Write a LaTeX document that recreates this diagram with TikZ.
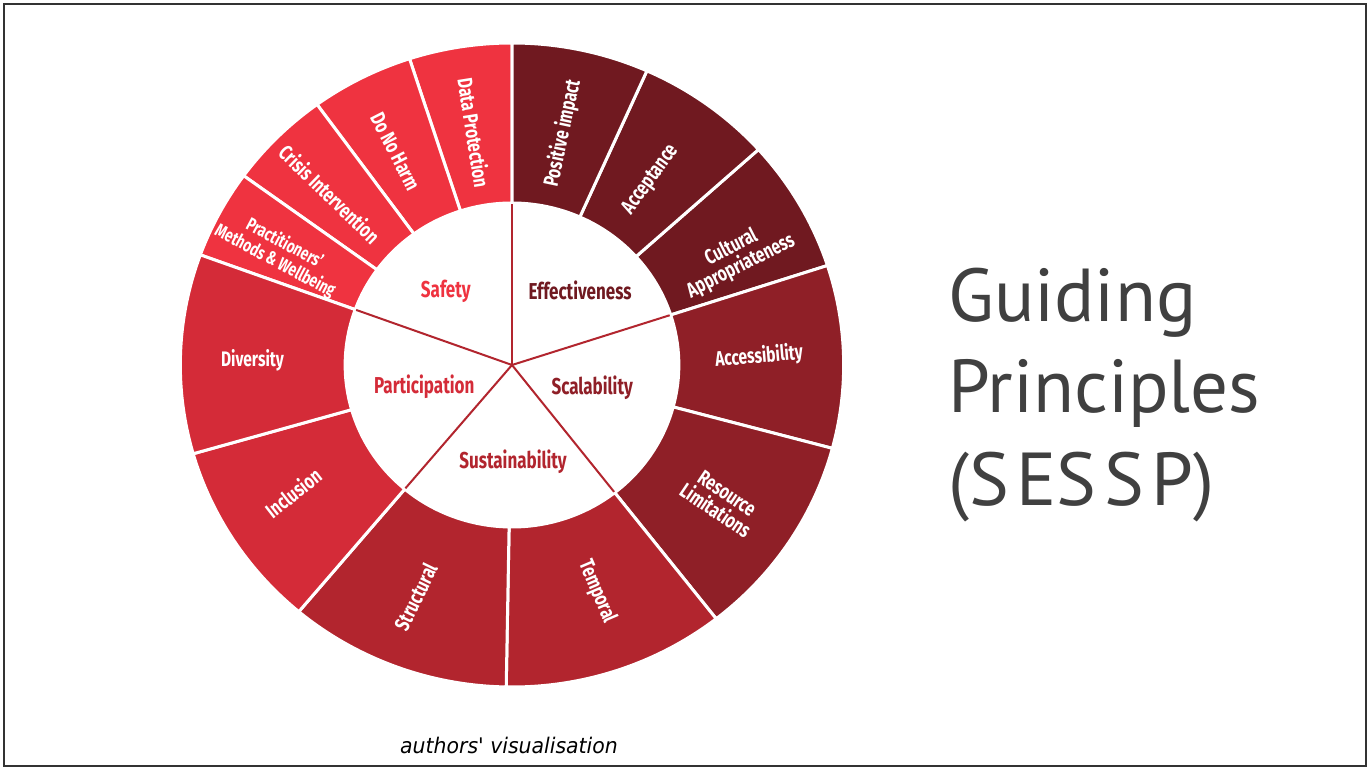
\documentclass[tikz,border=0pt]{standalone}
\usepackage{fontspec}
\setmainfont{PT Sans}
\newfontfamily\labelfont{Fira Sans}[FakeStretch=0.74]
\newfontfamily\notefont{DejaVu Sans}[FakeStretch=0.95]

\definecolor{safetyred}{RGB}{239,51,64}
\definecolor{effectred}{RGB}{112,25,32}
\definecolor{scalered}{RGB}{143,31,39}
\definecolor{sustainred}{RGB}{178,37,46}
\definecolor{partred}{RGB}{212,43,56}
\definecolor{titlegray}{RGB}{64,64,64}

\begin{document}
\begin{tikzpicture}[x=1pt, y=1pt,
		ringlabel/.style={text=white, font=\labelfont\bfseries\fontsize{21}{21}\selectfont, align=center, inner sep=0},
		hublabel/.style={font=\labelfont\bfseries\fontsize{23}{23}\selectfont, inner sep=0},
		titleline/.style={anchor=base west, inner sep=0, text=titlegray, font=\fontsize{75}{75}\selectfont}]
		\fill[white] (0, 0) rectangle (1370, 769);
		\useasboundingbox (0, 0) rectangle (1370, 769);
		\draw[black!80, line width=2.5] (4, 3) rectangle (1366, 765);

		\begin{scope}[shift={(512, 404)}, xscale=1.03]
			\coordinate (hub) at (0, 0);

			\foreach \a/\b/\c in {90/108/safetyred, 108/126/safetyred, 126/144/safetyred, 144/160/safetyred,
					18/42/effectred, 42/66/effectred, 66/90/effectred,
					-15/18/scalered, -52/-15/scalered,
					-91/-52/sustainred, -130/-91/sustainred,
					-164/-130/partred, -200/-164/partred}{
					\filldraw[fill=\c, draw=white, line width=3] (\a:162) arc[start angle=\a, end angle=\b, radius=162]
						-- (\b:322) arc[start angle=\b, end angle=\a, radius=322] -- cycle;
				}

			\foreach \a in {90, 18, -52, -130, 160}{
					\draw[sustainred, line width=2] (hub) -- (\a:161);
				}

			% centre
			\node[hublabel, text=safetyred] (safety) at (131:98) {Safety};
			\node[hublabel, text=effectred] (effect) at (48.6:100) {Effectiveness};
			\node[hublabel, text=scalered] (scale) at (-16:81) {Scalability};
			\node[hublabel, text=sustainred] (sustain) at (-89.4:97) {Sustainability};
			\node[hublabel, text=partred] (part) at (194.5:88) {Participation};

			% ring
			\node[ringlabel, rotate=-81] (dataprot) at (99:235) {Data Protection};
			\node[ringlabel, rotate=-63] (noharm) at (118:242) {Do No Harm};
			\node[ringlabel, rotate=-44] (crisis) at (136:246) {Crisis Intervention};
			\node[ringlabel, rotate=-28, font=\labelfont\bfseries\fontsize{18.5}{20}\selectfont] (practice) at (153.5:252) {Practitioners’\\Methods \& Wellbeing};
			\node[ringlabel, rotate=78] (impact) at (78:237) {Positive impact};
			\node[ringlabel, rotate=54] (accept) at (54:229) {Acceptance};
			\node[ringlabel, rotate=27] (culture) at (26.4:243) {Cultural\\Appropriateness};
			\node[ringlabel, rotate=5] (access) at (2:240) {Accessibility};
			\node[ringlabel, rotate=-34] (resource) at (-34:245) {Resource\\Limitations};
			\node[ringlabel, rotate=-67] (temporal) at (-70:241) {Temporal};
			\node[ringlabel, rotate=64] (struct) at (-112:250) {Structural};
			\node[ringlabel, rotate=38] (inclusion) at (-149:248) {Inclusion};
			\node[ringlabel] (diversity) at (179:252) {Diversity};
		\end{scope}

		\node[titleline] (guiding) at (948, 447) {Guiding};
		\node[titleline] (principles) at (948, 356) {Principles};
		\node[titleline] (sessp) at (948, 264) {(S\kern0.1em ES\kern0.1em S\kern0.1em P)};

		\node[anchor=base, inner sep=0, font=\notefont\itshape\fontsize{21.5}{21.5}\selectfont] (note) at (509, 16) {authors' visualisation};
	\end{tikzpicture}
\end{document}
